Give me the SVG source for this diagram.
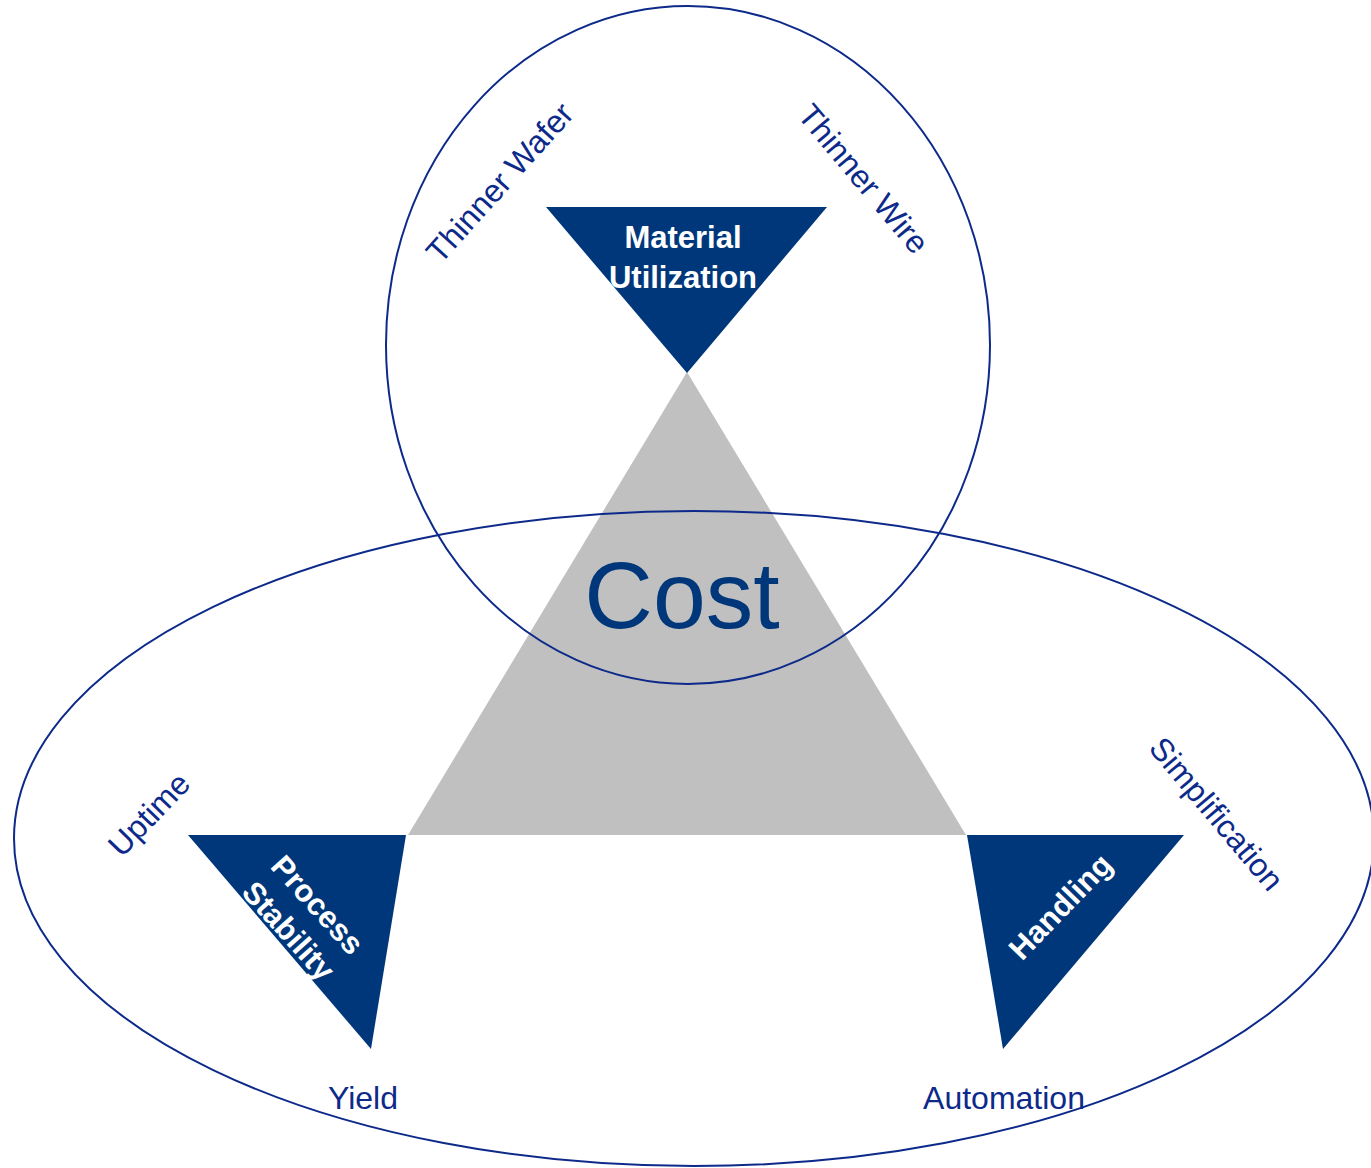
<svg xmlns="http://www.w3.org/2000/svg" width="1371" height="1168" viewBox="0 0 1371 1168">
<style>
.nav{fill:#00377a}
.ring{fill:none;stroke:#0d2a8a;stroke-width:2}
.lbl{font-family:"Liberation Sans",Arial,sans-serif;font-size:32px;fill:#0d2a8a;text-anchor:middle}
.key{font-family:"Liberation Sans",Arial,sans-serif;font-size:31px;font-weight:bold;fill:#ffffff;text-anchor:middle}
</style>
<rect width="1371" height="1168" fill="#ffffff"/>
<g id="cost-triangle"><polygon points="687,372 408,835 966,835" fill="#c0c0c0"/></g>
<g id="connectors">
<ellipse class="ring" cx="688" cy="345" rx="302" ry="339"/>
<ellipse class="ring" cx="694" cy="838.5" rx="680" ry="327.5"/>
</g>
<g id="material-utilization">
<polygon class="nav" points="546,207 827,207 687,373"/>
<text class="key" x="683" y="248">Material</text>
<text class="key" x="683" y="288">Utilization</text>
</g>
<g id="process-stability">
<polygon class="nav" points="188,835 406,835 371,1049"/>
<text class="key" transform="translate(303,918) rotate(48)"><tspan x="0" y="-9">Process</tspan><tspan x="0" y="30">Stability</tspan></text>
</g>
<g id="handling">
<polygon class="nav" points="967,835 1184,835 1003,1049"/>
<text class="key" transform="translate(1068,914) rotate(-46)">Handling</text>
</g>
<g id="cost"><text x="682" y="628" font-family="Liberation Sans,Arial,sans-serif" font-size="95" fill="#00377a" text-anchor="middle">Cost</text></g>
<g id="thinner-wafer"><text class="lbl" transform="translate(508,190) rotate(-48)">Thinner Wafer</text></g>
<g id="thinner-wire"><text class="lbl" transform="translate(855,186) rotate(50)">Thinner Wire</text></g>
<g id="uptime"><text class="lbl" transform="translate(157,822) rotate(-46)">Uptime</text></g>
<g id="simplification"><text class="lbl" transform="translate(1208,821) rotate(50)">Simplification</text></g>
<g id="yield"><text class="lbl" x="363" y="1109">Yield</text></g>
<g id="automation"><text class="lbl" x="1004" y="1109">Automation</text></g>
</svg>
